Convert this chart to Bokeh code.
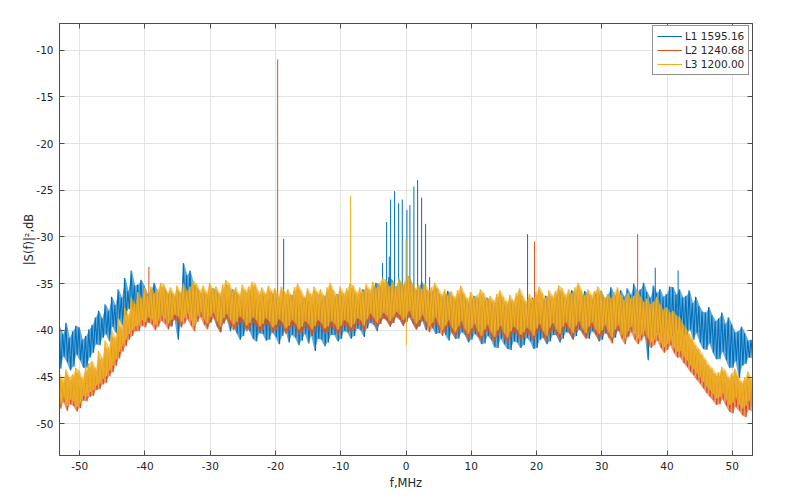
from bokeh.plotting import figure
from bokeh.models import LinearAxis, FixedTicker, Range1d, Legend, LegendItem
from bokeh.embed import file_html
from bokeh.resources import INLINE

# frequency bins (MHz), 0.5 MHz wide, from -53 to 53
BINS = [i / 2 for i in range(-106, 107)]

# per bin: maximum (hi) and minimum (lo) of each power spectrum, dB
L1_hi = [-39.6, -40.4, -39.2, -40.8, -40.1, -39.5, -39.7, -41.0, -40.6, -39.9,
         -39.4, -38.6, -37.9, -38.7, -37.2, -37.9, -36.4, -37.3, -35.6, -36.5,
         -34.4, -35.8, -33.6, -35.2, -35.1, -34.6, -35.3, -36.2, -35.6, -34.9,
         -35.9, -36.4, -35.4, -36.1, -35.8, -36.6, -35.6, -36.3, -32.8, -34.1,
         -33.6, -35.0, -35.5, -36.2, -35.9, -36.6, -36.1, -35.5, -35.7, -36.6,
         -36.0, -37.0, -36.3, -35.6, -35.9, -36.8, -36.5, -37.2, -36.2, -35.8,
         -36.6, -37.3, -36.1, -36.9, -36.8, -36.0, -36.4, -37.1, -36.6, -37.4,
         -36.9, -36.2, -36.4, -37.3, -37.1, -36.5, -36.7, -37.5, -36.5, -37.2,
         -36.9, -36.3, -36.4, -37.4, -36.8, -36.1, -36.2, -37.0, -36.6, -35.9,
         -36.0, -36.8, -36.3, -35.6, -35.8, -36.5, -35.5, -34.9, -35.1, -35.8,
         -35.0, -34.3, -34.7, -35.4, -34.5, -35.2, -34.9, -34.2, -35.0, -35.7,
         -35.4, -34.8, -35.5, -36.2, -35.9, -35.3, -36.0, -36.7, -36.3, -35.8,
         -36.2, -36.9, -36.6, -36.0, -36.4, -37.2, -36.9, -36.3, -36.6, -37.4,
         -37.0, -36.5, -36.8, -37.6, -37.1, -36.6, -37.2, -37.8, -36.9, -37.5,
         -37.3, -36.7, -37.0, -37.6, -37.2, -36.5, -36.8, -37.5, -36.9, -36.3,
         -36.5, -37.2, -36.6, -36.0, -36.3, -37.0, -36.2, -35.7, -36.0, -36.8,
         -36.3, -35.8, -36.2, -36.9, -35.9, -36.5, -35.8, -36.6, -36.1, -35.4,
         -36.2, -36.8, -35.7, -36.4, -35.5, -36.2, -35.0, -35.9, -35.6, -34.9,
         -35.9, -36.5, -35.2, -36.0, -35.6, -36.4, -36.1, -35.3, -35.4, -36.2,
         -35.6, -36.5, -36.3, -35.7, -37.1, -36.4, -37.4, -38.0, -38.1, -37.5,
         -38.4, -39.0, -38.7, -38.1, -39.3, -38.6, -39.4, -40.2, -40.1, -39.6,
         -40.3, -41.1, -41.0]
L1_lo = [-44.1, -42.8, -43.4, -44.3, -43.9, -42.6, -43.2, -44.0, -44.0, -42.9,
         -42.4, -41.5, -41.6, -40.8, -40.4, -41.2, -39.6, -40.3, -38.8, -39.5,
         -38.4, -37.7, -37.6, -38.5, -38.1, -37.4, -38.6, -39.2, -38.2, -37.6,
         -39.1, -38.3, -38.4, -39.3, -39.6, -38.7, -41.0, -39.2, -37.6, -38.4,
         -37.8, -38.9, -38.6, -37.9, -38.9, -39.6, -39.1, -38.4, -39.6, -40.2,
         -39.2, -38.7, -40.1, -39.4, -40.3, -41.0, -40.6, -39.7, -40.1, -40.9,
         -41.2, -40.3, -40.4, -41.1, -41.0, -40.2, -40.7, -41.5, -40.6, -39.9,
         -41.3, -40.5, -40.8, -41.6, -41.1, -40.4, -41.4, -40.6, -42.2, -40.9,
         -41.0, -41.7, -41.3, -40.5, -40.5, -41.2, -40.9, -40.1, -40.2, -40.9,
         -40.6, -39.8, -40.0, -40.7, -39.8, -39.2, -39.4, -40.1, -39.3, -38.7,
         -38.9, -39.6, -39.2, -38.5, -38.8, -39.5, -39.1, -38.6, -39.2, -39.9,
         -39.6, -39.0, -40.0, -39.3, -39.7, -40.4, -40.3, -39.6, -40.5, -41.1,
         -40.2, -40.9, -40.9, -40.2, -40.5, -41.3, -41.0, -40.4, -40.7, -41.5,
         -41.4, -40.6, -41.0, -41.8, -41.9, -40.9, -41.5, -42.0, -42.1, -41.2,
         -41.3, -41.9, -41.6, -40.8, -41.2, -42.0, -41.9, -41.0, -40.8, -41.5,
         -41.2, -40.5, -40.5, -41.3, -40.9, -40.2, -40.3, -41.0, -40.6, -39.9,
         -40.2, -40.8, -40.9, -40.1, -40.4, -41.2, -41.0, -40.3, -40.5, -41.1,
         -40.8, -40.0, -40.2, -40.9, -40.6, -39.8, -40.0, -40.7, -40.4, -39.7,
         -43.2, -40.5, -40.9, -40.1, -40.4, -41.0, -40.0, -40.6, -40.6, -39.9,
         -39.8, -40.5, -40.5, -39.9, -41.0, -40.3, -41.3, -42.0, -42.1, -41.4,
         -42.4, -43.1, -43.1, -42.3, -43.2, -44.0, -44.0, -43.3, -45.1, -43.8,
         -43.6, -42.9, -43.0]

L2_hi = [-45.0, -45.7, -44.6, -45.4, -45.1, -44.5, -44.8, -45.5, -44.5, -44.0,
         -43.8, -44.4, -42.9, -43.5, -41.8, -42.4, -40.6, -41.3, -39.4, -40.1,
         -38.1, -38.8, -37.0, -37.7, -36.3, -37.0, -35.7, -36.5, -35.6, -36.3,
         -35.9, -35.3, -35.5, -36.2, -35.8, -36.4, -35.6, -36.2, -35.4, -36.1,
         -35.7, -35.1, -35.4, -36.0, -35.6, -36.2, -35.3, -35.9, -35.7, -36.3,
         -35.5, -35.0, -35.4, -36.1, -35.8, -36.4, -35.5, -36.0, -35.7, -35.2,
         -35.4, -36.2, -35.8, -36.3, -35.6, -36.1, -35.9, -36.5, -35.7, -36.2,
         -36.0, -36.6, -35.8, -35.4, -36.1, -36.7, -35.9, -36.4, -35.7, -36.2,
         -36.0, -36.6, -35.8, -35.3, -36.1, -36.5, -35.7, -36.3, -35.9, -35.4,
         -35.6, -36.2, -35.8, -36.2, -35.4, -35.9, -35.2, -35.8, -35.3, -34.8,
         -35.0, -35.6, -35.2, -35.7, -34.9, -35.4, -35.1, -34.6, -35.3, -35.8,
         -35.5, -35.9, -35.4, -36.0, -35.8, -35.3, -35.9, -36.4, -36.0, -36.6,
         -36.2, -36.7, -36.1, -35.6, -36.4, -36.9, -36.3, -36.8, -36.6, -36.0,
         -36.4, -37.0, -36.7, -37.1, -36.5, -36.1, -36.8, -37.2, -36.6, -37.1,
         -36.4, -35.9, -36.7, -37.2, -36.5, -37.0, -36.3, -35.7, -36.4, -36.9,
         -36.1, -36.6, -36.2, -35.6, -35.9, -36.5, -36.0, -36.4, -35.8, -35.3,
         -36.1, -36.6, -36.0, -36.5, -36.2, -35.7, -36.3, -36.8, -36.5, -36.9,
         -36.3, -35.8, -36.6, -37.1, -36.4, -36.9, -36.7, -36.2, -36.8, -37.3,
         -37.0, -37.5, -37.3, -36.8, -37.6, -38.1, -37.9, -38.4, -38.3, -38.8,
         -39.0, -39.6, -40.2, -40.8, -41.3, -41.9, -42.4, -42.9, -43.5, -44.0,
         -44.4, -44.9, -44.9, -44.3, -44.7, -45.3, -45.0, -44.5, -45.3, -45.8,
         -45.4, -44.8, -45.6]
L2_lo = [-48.4, -47.7, -48.6, -47.9, -48.1, -48.7, -48.3, -47.5, -47.6, -47.1,
         -47.0, -46.4, -46.3, -45.8, -45.6, -44.9, -44.5, -43.8, -43.0, -42.3,
         -41.7, -41.0, -40.6, -40.1, -40.1, -39.5, -39.7, -39.1, -39.4, -40.0,
         -39.6, -39.0, -39.3, -39.9, -39.5, -38.9, -39.1, -39.7, -39.3, -38.8,
         -39.5, -40.1, -39.1, -38.6, -39.4, -39.9, -39.2, -38.7, -39.6, -40.2,
         -39.3, -38.8, -39.5, -40.0, -39.7, -39.1, -39.4, -40.1, -39.8, -39.2,
         -39.5, -40.2, -39.9, -39.3, -39.6, -40.3, -40.0, -39.4, -39.7, -40.4,
         -40.1, -39.5, -39.8, -40.5, -40.2, -39.6, -39.9, -40.5, -40.1, -39.5,
         -39.8, -40.4, -40.2, -39.6, -39.9, -40.5, -40.1, -39.5, -39.7, -40.3,
         -39.9, -39.3, -39.5, -40.1, -39.4, -38.8, -39.2, -39.8, -39.3, -38.7,
         -39.0, -39.6, -39.2, -38.6, -38.9, -39.5, -39.1, -38.5, -39.3, -39.9,
         -39.5, -38.9, -39.6, -40.2, -39.8, -39.2, -40.0, -40.6, -40.1, -39.5,
         -40.3, -40.8, -40.2, -39.6, -40.5, -41.0, -40.4, -39.9, -40.7, -41.2,
         -40.5, -40.0, -40.8, -41.3, -40.6, -40.1, -40.9, -41.4, -40.7, -40.2,
         -40.5, -41.1, -40.8, -40.3, -40.6, -41.2, -40.4, -39.9, -40.7, -41.2,
         -40.3, -39.8, -40.5, -41.0, -40.2, -39.7, -40.3, -40.9, -40.1, -39.6,
         -40.4, -40.9, -40.2, -39.7, -40.5, -41.0, -40.6, -40.0, -40.8, -41.4,
         -40.5, -40.0, -40.9, -41.5, -40.7, -40.2, -41.0, -41.5, -41.1, -40.6,
         -41.4, -41.9, -41.6, -41.1, -41.9, -42.4, -42.1, -41.6, -42.4, -42.9,
         -42.9, -43.5, -43.9, -44.4, -44.8, -45.3, -45.7, -46.2, -46.7, -47.1,
         -47.5, -48.0, -47.9, -47.4, -48.1, -48.7, -48.9, -48.2, -48.6, -49.1,
         -49.3, -48.5, -48.7]

L3_hi = [-44.6, -45.3, -44.2, -45.0, -44.7, -44.0, -44.3, -45.1, -44.0, -43.5,
         -43.3, -44.0, -42.2, -42.9, -41.1, -41.8, -40.0, -40.7, -38.7, -39.6,
         -37.6, -38.3, -36.5, -37.2, -35.9, -36.6, -35.4, -36.3, -35.3, -36.0,
         -35.6, -34.9, -35.1, -35.9, -35.4, -36.1, -35.2, -35.9, -35.0, -35.8,
         -35.3, -34.7, -35.0, -35.7, -35.2, -35.9, -34.9, -35.6, -35.3, -36.0,
         -35.1, -34.6, -35.0, -35.8, -35.4, -36.1, -35.1, -35.7, -35.3, -34.8,
         -35.0, -35.9, -35.4, -36.0, -35.2, -35.8, -35.5, -36.2, -35.3, -35.9,
         -35.6, -36.3, -35.4, -35.0, -35.7, -36.4, -35.5, -36.1, -35.3, -35.9,
         -35.6, -36.3, -35.4, -34.9, -35.7, -36.2, -35.3, -36.0, -35.5, -35.0,
         -35.2, -35.9, -35.4, -35.9, -35.0, -35.6, -34.8, -35.5, -34.9, -34.4,
         -34.6, -35.3, -34.8, -35.4, -34.5, -35.1, -34.7, -34.2, -34.9, -35.5,
         -35.1, -35.6, -35.0, -35.7, -35.4, -34.9, -35.5, -36.1, -35.6, -36.3,
         -35.8, -36.4, -35.7, -35.2, -36.0, -36.6, -35.9, -36.5, -36.2, -35.6,
         -36.0, -36.7, -36.3, -36.8, -36.1, -35.7, -36.4, -36.9, -36.2, -36.8,
         -36.0, -35.5, -36.3, -36.9, -36.1, -36.7, -35.9, -35.3, -36.0, -36.6,
         -35.7, -36.3, -35.8, -35.2, -35.5, -36.2, -35.6, -36.1, -35.4, -34.9,
         -35.7, -36.3, -35.6, -36.2, -35.8, -35.3, -35.9, -36.5, -36.1, -36.6,
         -35.9, -35.4, -36.2, -36.8, -36.0, -36.6, -36.3, -35.8, -36.4, -37.0,
         -36.6, -37.2, -36.9, -36.4, -37.2, -37.8, -37.5, -38.1, -37.9, -38.4,
         -38.6, -39.3, -39.8, -40.4, -40.9, -41.6, -42.0, -42.6, -43.1, -43.7,
         -44.0, -44.6, -44.5, -43.9, -44.3, -45.0, -44.6, -44.1, -44.9, -45.5,
         -45.0, -44.4, -45.2]
L3_lo = [-47.9, -47.2, -48.1, -47.4, -47.6, -48.2, -47.8, -47.0, -47.1, -46.6,
         -46.4, -45.9, -45.7, -45.2, -44.9, -44.3, -43.8, -43.1, -42.3, -41.7,
         -41.0, -40.4, -40.0, -39.6, -39.5, -38.9, -39.1, -38.6, -38.8, -39.4,
         -39.0, -38.4, -38.7, -39.3, -38.9, -38.3, -38.5, -39.1, -38.7, -38.2,
         -38.9, -39.5, -38.5, -38.0, -38.8, -39.3, -38.6, -38.1, -39.0, -39.6,
         -38.7, -38.2, -38.9, -39.4, -39.1, -38.5, -38.8, -39.5, -39.2, -38.6,
         -38.9, -39.6, -39.3, -38.7, -39.0, -39.7, -39.4, -38.8, -39.1, -39.8,
         -39.5, -38.9, -39.2, -39.9, -39.6, -39.0, -39.3, -39.9, -39.5, -38.9,
         -39.2, -39.8, -39.6, -39.0, -39.3, -39.9, -39.5, -38.9, -39.1, -39.7,
         -39.3, -38.7, -38.9, -39.5, -38.8, -38.2, -38.6, -39.2, -38.7, -38.1,
         -38.4, -39.0, -38.6, -38.0, -38.3, -38.9, -38.5, -37.9, -38.7, -39.3,
         -38.9, -38.3, -39.0, -39.6, -39.2, -38.6, -39.4, -40.0, -39.5, -38.9,
         -39.7, -40.2, -39.6, -39.0, -39.9, -40.4, -39.8, -39.3, -40.1, -40.6,
         -39.9, -39.4, -40.2, -40.7, -40.0, -39.5, -40.3, -40.8, -40.1, -39.6,
         -39.9, -40.5, -40.2, -39.7, -40.0, -40.6, -39.8, -39.3, -40.1, -40.6,
         -39.7, -39.2, -39.9, -40.4, -39.6, -39.1, -39.7, -40.3, -39.5, -39.0,
         -39.8, -40.3, -39.6, -39.1, -39.9, -40.4, -40.0, -39.4, -40.2, -40.8,
         -39.9, -39.4, -40.3, -40.9, -40.1, -39.6, -40.4, -40.9, -40.5, -40.0,
         -40.8, -41.3, -41.0, -40.5, -41.3, -41.8, -41.5, -41.0, -41.8, -42.3,
         -42.2, -42.8, -43.2, -43.7, -44.1, -44.6, -45.0, -45.5, -46.0, -46.4,
         -46.8, -47.3, -47.2, -46.7, -47.4, -48.0, -47.8, -47.2, -47.9, -48.4,
         -48.1, -47.5, -48.0]

# narrow spectral lines: frequency (MHz), peak level and floor level beneath (dB)
L1_spike_f = [-3.59, -2.97, -2.56, -2.36, -1.75, -1.13, -0.57, 0.14, 0.60,
              1.21, 1.78, 2.39, 3.00, 3.62, -18.75, 18.63, 38.2, 41.7]
L1_spike_top = [-32.8, -28.4, -32.1, -26.0, -25.1, -26.4, -26.0, -27.1, -26.6,
                -24.6, -23.9, -25.8, -28.6, -34.3, -30.2, -29.7, -33.3, -33.6]
L1_spike_base = [-37.0, -37.0, -37.0, -37.0, -37.0, -37.0, -37.0, -37.0, -37.0,
                 -37.0, -37.0, -37.0, -37.0, -37.0, -38.0, -38.5, -37.0, -37.5]
L2_spike_f = [-19.67, 19.70, 35.50, -39.40]
L2_spike_top = [-11.0, -30.5, -29.7, -33.2]
L2_spike_base = [-38.0, -38.5, -38.0, -37.5]
L3_spike_f = [-8.49, 0.00, 0.05]
L3_spike_top = [-25.6, -30.2, -41.6]
L3_spike_base = [-37.0, -36.5, -37.0]

NAMES = ["L1 1595.16", "L2 1240.68", "L3 1200.00"]
COLORS = ["#0072BD", "#D95319", "#EDB120"]
X_TICKS = [-50, -40, -30, -20, -10, 0, 10, 20, 30, 40, 50]
Y_TICKS = [-50, -45, -40, -35, -30, -25, -20, -15, -10]

FONT = "DejaVu Sans"
TXT = "#262626"
AX = "#4d4d4d"

p = figure(width=800, height=502, output_backend="svg", toolbar_location=None,
           x_range=Range1d(-53.1, 53.1), y_range=Range1d(-53.4, -7.15),
           min_border_left=59, min_border_right=48, min_border_top=23,
           min_border_bottom=47, background_fill_color="white",
           border_fill_color="white")
p.outline_line_color = AX

for ax, ticks in ((p.xaxis[0], X_TICKS), (p.yaxis[0], Y_TICKS)):
    ax.ticker = FixedTicker(ticks=ticks)
    ax.major_label_overrides = {t: str(t) for t in ticks}
    ax.major_tick_in = 5
    ax.major_tick_out = 0
    ax.minor_tick_line_color = None
    ax.axis_line_color = AX
    ax.major_tick_line_color = AX
    ax.major_label_text_font = FONT
    ax.major_label_text_font_size = "10.5px"
    ax.major_label_text_color = TXT
    ax.major_label_standoff = 6
    ax.axis_label_text_font = FONT
    ax.axis_label_text_font_size = "11.5px"
    ax.axis_label_text_font_style = "normal"
    ax.axis_label_text_color = TXT
p.xaxis[0].axis_label = "f,MHz"
p.xaxis[0].axis_label_standoff = 3
p.yaxis[0].axis_label = "|S(f)|\u00b2,dB"
p.yaxis[0].axis_label_standoff = -3

for loc, ticks in (("above", X_TICKS), ("right", Y_TICKS)):
    a = LinearAxis(ticker=FixedTicker(ticks=ticks), major_tick_in=5,
                   major_tick_out=0, minor_tick_line_color=None,
                   axis_line_color=AX, major_tick_line_color=AX,
                   major_label_overrides={t: "" for t in ticks},
                   major_label_standoff=0)
    p.add_layout(a, loc)

p.xgrid.ticker = FixedTicker(ticks=X_TICKS)
p.ygrid.ticker = FixedTicker(ticks=Y_TICKS)
for g in (p.xgrid[0], p.ygrid[0]):
    g.grid_line_color = "#e3e3e3"
    g.grid_line_width = 1

series = [(L1_hi, L1_lo, L1_spike_f, L1_spike_top, L1_spike_base),
          (L2_hi, L2_lo, L2_spike_f, L2_spike_top, L2_spike_base),
          (L3_hi, L3_lo, L3_spike_f, L3_spike_top, L3_spike_base)]

items = []
for (hi, lo, sf, st, sb), name, col in zip(series, NAMES, COLORS):
    xs, ys = [], []
    for b, h, l in zip(BINS, hi, lo):
        xs += [b - 0.125, b + 0.125]
        ys += [h, l]
    p.varea(x=BINS, y1=lo, y2=hi, fill_color=col, fill_alpha=0.6)
    r = p.line(xs, ys, line_color=col, line_width=1.1)
    p.segment(x0=sf, y0=sb, x1=sf, y1=st, line_color=col, line_width=1)
    items.append(LegendItem(label=name, renderers=[r]))

legend = Legend(items=items, location=(593, 380), orientation="vertical",
                label_text_font=FONT, label_text_font_size="10.5px",
                label_text_color=TXT, glyph_width=25, glyph_height=10,
                label_height=10, spacing=2, padding=4, margin=0,
                label_standoff=3, border_line_color="#262626",
                border_line_width=1, background_fill_alpha=1)
p.add_layout(legend)

open("out.html", "w").write(file_html(p, INLINE))
